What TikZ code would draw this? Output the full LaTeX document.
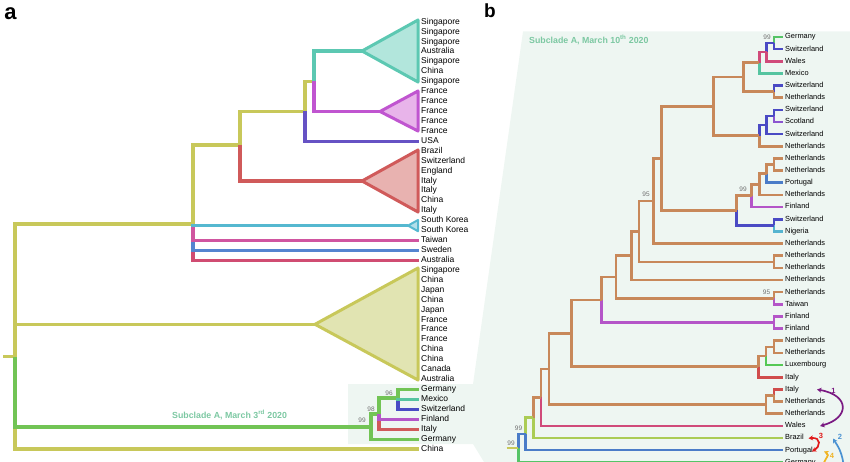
\documentclass[tikz,border=0pt]{standalone}
\usepackage{fontspec}
\setmainfont{Liberation Sans}
\usetikzlibrary{arrows.meta}

\definecolor{oli}{HTML}{C8C85A}
\definecolor{oliF}{HTML}{E1E4B2}
\definecolor{tq}{HTML}{5CC8B2}
\definecolor{tqF}{HTML}{B2E6DC}
\definecolor{mg}{HTML}{C055D0}
\definecolor{mgF}{HTML}{E8B4EA}
\definecolor{rd}{HTML}{D05A5A}
\definecolor{rdF}{HTML}{E8B2B0}
\definecolor{ind}{HTML}{6652C4}
\definecolor{cy}{HTML}{55B8D0}
\definecolor{pk}{HTML}{D055A0}
\definecolor{sw}{HTML}{5585D0}
\definecolor{cr}{HTML}{D04C72}
\definecolor{grnA}{HTML}{72C455}
\definecolor{brn}{HTML}{C8885A}
\definecolor{wal}{HTML}{D04A7A}
\definecolor{mex}{HTML}{55C4A0}
\definecolor{grn}{HTML}{55C466}
\definecolor{blu}{HTML}{4A4AC4}
\definecolor{sco}{HTML}{8C55D0}
\definecolor{por}{HTML}{4A7CC8}
\definecolor{fin}{HTML}{B455C8}
\definecolor{nig}{HTML}{55B4D0}
\definecolor{lux}{HTML}{55C855}
\definecolor{ita}{HTML}{D04C4C}
\definecolor{bra}{HTML}{ABCC55}
\definecolor{panel}{HTML}{EEF6F2}
\definecolor{subtx}{HTML}{7CC8A2}
\definecolor{bootgray}{HTML}{707070}
\definecolor{arP}{HTML}{7A1A82}
\definecolor{arR}{HTML}{E01A1A}
\definecolor{arB}{HTML}{4A92D2}
\definecolor{arO}{HTML}{F0B424}

\tikzset{
  leaf/.style={anchor=west, inner xsep=2pt, inner ysep=0pt, text height=6pt,
    text depth=1.7pt, font=\fontsize{8.5}{9}\selectfont},
  leafb/.style={leaf, font=\fontsize{7.4}{8}\selectfont, text height=5.3pt,
    text depth=1.5pt},
  br/.style={line width=3.1pt, draw=#1},
  bb/.style={line width=2.6pt, draw=#1},
  clade/.style={line width=3pt, draw=#1, line join=round},
  boot/.style={font=\fontsize{6.5}{7}\selectfont, text=bootgray, inner sep=0pt},
  sub/.style={anchor=west, inner sep=0pt, text=subtx,
    font=\bfseries\fontsize{8.8}{9}\selectfont},
  panlab/.style={inner sep=0pt, font=\bfseries\fontsize{19}{19}\selectfont},
  mig/.style={line width=1.7pt, draw=#1, {Stealth[length=4.5pt,width=5pt]}-{Stealth[length=4.5pt,width=5pt]}},
  miglab/.style={inner sep=0pt, text=#1, font=\bfseries\fontsize{7.5}{8}\selectfont},
}

\begin{document}
\begin{tikzpicture}[x=1pt,y=-1pt]
\useasboundingbox (0,0) rectangle (850,462);
\clip (0,0) rectangle (850,462);

% shaded zoom region
\fill[panel] (348,384) -- (473,384) -- (523,31.5) -- (850,31.5) -- (850,462)
  -- (484,462) -- (473,444) -- (348,444) -- cycle;

\node[panlab, font=\bfseries\fontsize{22}{22}\selectfont] (pa) at (10.5,13.5) {a};
\node[panlab] (pb) at (490,11) {b};

% ---------------- panel a ----------------
\foreach \nm [count=\i from 0] in {Singapore,Singapore,Singapore,Australia,Singapore,
  China,Singapore,France,France,France,France,France,USA,Brazil,Switzerland,England,
  Italy,Italy,China,Italy,South Korea,South Korea,Taiwan,Sweden,Australia,Singapore,
  China,Japan,China,Japan,France,France,France,China,China,Canada,Australia,Germany,
  Mexico,Switzerland,Finland,Italy,Germany,China}
  \node[leaf] (a\i) at (419,22+9.93*\i) {\nm};

\coordinate (root) at (15,356.7);
\coordinate (n193) at (193,224);
\coordinate (n240) at (240,145);
\coordinate (n305) at (305,111.5);
\coordinate (n314) at (314,81.5);
\coordinate (tqT) at (362,51);
\coordinate (mgT) at (380,111.5);
\coordinate (rdT) at (362,181);
\coordinate (skT) at (408,225.6);
\coordinate (olT) at (315,324.3);
\coordinate (sA1) at (371,427);
\coordinate (sA2) at (379,414);
\coordinate (sA3) at (398,398);

\draw[br=oli] (3,356.7) -- (root);
\draw[br=oli] (root) |- (a43.west);
\draw[br=grnA] (root) |- (sA1);
\draw[br=oli] (root) |- (n193);
\draw[br=oli] (15,324.3) -- (olT);

\draw[br=cr] (n193) |- (a24.west);
\draw[br=sw] (n193) |- (a23.west);
\draw[br=pk] (n193) |- (a22.west);
\draw[br=cy] (n193) |- (skT);
\draw[br=oli] (n193) |- (n240);

\draw[br=oli] (n240) |- (n305);
\draw[br=rd] (n240) |- (rdT);
\draw[br=oli] (n305) |- (n314);
\draw[br=ind] (n305) |- (a12.west);
\draw[br=tq] (n314) |- (tqT);
\draw[br=mg] (n314) |- (mgT);

\filldraw[clade=tq, fill=tqF] (tqT) -- (418,20) -- (418,82) -- cycle;
\filldraw[clade=mg, fill=mgF] (mgT) -- (418,91) -- (418,131) -- cycle;
\filldraw[clade=rd, fill=rdF] (rdT) -- (418,150) -- (418,212) -- cycle;
\filldraw[clade=cy, fill=cy!45, line width=2pt] (skT) -- (418,220) -- (418,231.2) -- cycle;
\filldraw[clade=oli, fill=oliF] (olT) -- (418,268) -- (418,380) -- cycle;

% subclade A
\draw[br=grnA] (sA1) |- (a42.west);
\draw[br=grnA] (sA1) |- (sA2);
\draw[br=rd] (sA2) |- (a41.west);
\draw[br=fin] (sA2) |- (a40.west);
\draw[br=grnA] (sA2) |- (sA3);
\draw[br=blu] (sA3) |- (a39.west);
\draw[br=grnA] (sA3) |- (a37.west);
\draw[br=mex] (sA3) |- (a38.west);

\node[boot] (bs96) at (389,393) {96};
\node[boot] (bs98) at (371,409) {98};
\node[boot] (bs99a) at (362,420) {99};
\node[sub] (subA) at (172,415) {Subclade A, March 3\textsuperscript{rd} 2020};

% ---------------- panel b ----------------
\node[sub] (subB) at (529,40) {Subclade A, March 10\textsuperscript{th} 2020};

\foreach \nm [count=\j from 0] in {Germany,Switzerland,Wales,Mexico,Switzerland,
  Netherlands,Switzerland,Scotland,Switzerland,Netherlands,Netherlands,Netherlands,
  Portugal,Netherlands,Finland,Switzerland,Nigeria,Netherlands,Netherlands,
  Netherlands,Netherlands,Netherlands,Taiwan,Finland,Finland,Netherlands,Netherlands,
  Luxembourg,Italy,Italy,Netherlands,Netherlands,Wales,Brazil,Portugal,Germany}
  \node[leafb] (b\j) at (783,37+12.15*\j) {\nm};

\coordinate (A1) at (774,43.1);
\coordinate (A2) at (766.7,52.2);
\coordinate (A3) at (759.3,62.8);
\coordinate (A4) at (774,91.7);
\coordinate (A5) at (743.3,77.2);
\coordinate (A6) at (774,116);
\coordinate (A7) at (766.7,125.1);
\coordinate (A8) at (759.3,135.7);
\coordinate (A9) at (713.3,106.5);
\coordinate (B1) at (774,164.6);
\coordinate (B2) at (766.7,173.7);
\coordinate (B3) at (759.3,184.3);
\coordinate (B4) at (751.7,195.7);
\coordinate (B5) at (774,225.3);
\coordinate (B6) at (736.7,210.5);
\coordinate (B7) at (661.7,158.5);
\coordinate (B8) at (653.3,201);
\coordinate (B9) at (774,261.8);
\coordinate (B10) at (639,231.4);
\coordinate (B11) at (631.7,255.7);
\coordinate (B12) at (774,298.2);
\coordinate (B13) at (616,277);
\coordinate (B14) at (774,322.5);
\coordinate (B15) at (601.7,299.8);
\coordinate (C1) at (774,346.8);
\coordinate (C2) at (766,355.9);
\coordinate (C3) at (758.3,366.6);
\coordinate (C4) at (571.7,333.2);
\coordinate (D1) at (774,395.4);
\coordinate (D2) at (766,404.5);
\coordinate (D3) at (549,368.9);
\coordinate (E1) at (541,397.3);
\coordinate (E2) at (533.3,417.6);
\coordinate (E3) at (525.7,433.9);
\coordinate (E4) at (518.3,448);

\draw[bb=grn] (A1) |- (b0.west);
\draw[bb=blu] (A1) |- (b1.west);
\draw[bb=blu] (A2) |- (A1);
\draw[bb=wal] (A2) |- (b2.west);
\draw[bb=wal] (A3) |- (A2);
\draw[bb=mex] (A3) |- (b3.west);
\draw[bb=blu] (A4) |- (b4.west);
\draw[bb=brn] (A4) |- (b5.west);
\draw[bb=brn] (A5) |- (A3);
\draw[bb=brn] (A5) |- (A4);
\draw[bb=blu] (A6) |- (b6.west);
\draw[bb=sco] (A6) |- (b7.west);
\draw[bb=blu] (A7) |- (A6);
\draw[bb=blu] (A7) |- (b8.west);
\draw[bb=blu] (A8) |- (A7);
\draw[bb=brn] (A8) |- (b9.west);
\draw[bb=brn] (A9) |- (A5);
\draw[bb=brn] (A9) |- (A8);

\draw[bb=brn] (B1) |- (b10.west);
\draw[bb=brn] (B1) |- (b11.west);
\draw[bb=brn] (B2) |- (B1);
\draw[bb=por] (B2) |- (b12.west);
\draw[bb=brn] (B3) |- (B2);
\draw[bb=brn] (B3) |- (b13.west);
\draw[bb=brn] (B4) |- (B3);
\draw[bb=fin] (B4) |- (b14.west);
\draw[bb=blu] (B5) |- (b15.west);
\draw[bb=nig] (B5) |- (b16.west);
\draw[bb=brn] (B6) |- (B4);
\draw[bb=blu] (B6) |- (B5);
\draw[bb=brn] (B7) |- (A9);
\draw[bb=brn] (B7) |- (B6);
\draw[bb=brn] (B8) |- (B7);
\draw[bb=brn] (B8) |- (b17.west);
\draw[bb=brn] (B9) |- (b18.west);
\draw[bb=brn] (B9) |- (b19.west);
\draw[bb=brn] (B10) |- (B8);
\draw[bb=brn] (B10) |- (B9);
\draw[bb=brn] (B11) |- (B10);
\draw[bb=brn] (B11) |- (b20.west);
\draw[bb=brn] (B12) |- (b21.west);
\draw[bb=fin] (B12) |- (b22.west);
\draw[bb=brn] (B13) |- (B11);
\draw[bb=brn] (B13) |- (B12);
\draw[bb=fin] (B14) |- (b23.west);
\draw[bb=fin] (B14) |- (b24.west);
\draw[bb=brn] (B15) |- (B13);
\draw[bb=fin] (B15) |- (B14);

\draw[bb=brn] (C1) |- (b25.west);
\draw[bb=brn] (C1) |- (b26.west);
\draw[bb=brn] (C2) |- (C1);
\draw[bb=lux] (C2) |- (b27.west);
\draw[bb=brn] (C3) |- (C2);
\draw[bb=ita] (C3) |- (b28.west);
\draw[bb=brn] (C4) |- (B15);
\draw[bb=brn] (C4) |- (C3);
\draw[bb=ita] (D1) |- (b29.west);
\draw[bb=brn] (D1) |- (b30.west);
\draw[bb=brn] (D2) |- (D1);
\draw[bb=brn] (D2) |- (b31.west);
\draw[bb=brn] (D3) |- (C4);
\draw[bb=brn] (D3) |- (D2);
\draw[bb=brn] (E1) |- (D3);
\draw[bb=wal] (E1) |- (b32.west);
\draw[bb=brn] (E2) |- (E1);
\draw[bb=bra] (E2) |- (b33.west);
\draw[bb=bra] (E3) |- (E2);
\draw[bb=por] (E3) |- (b34.west);
\draw[bb=por] (E4) |- (E3);
\draw[bb=grn] (E4) |- (b35.west);
\draw[bb=oli] (506.7,448) -- (E4);

\node[boot] (bsG) at (767,37) {99};
\node[boot] (bsF) at (743,189.5) {99};
\node[boot] (bsN) at (766.5,292.5) {95};
\node[boot] (bsM) at (646,194) {95};
\node[boot] (bsE3) at (518.5,428) {99};
\node[boot] (bsE4) at (511,443) {99};

% migration arrows
\draw[mig=arP] (817,389.5) .. controls (850,395) and (850,418) .. (820,426);
\node[miglab=arP] (m1) at (833.5,391) {1};
\draw[mig=arR] (808.5,438.3) .. controls (822,437) and (820,447) .. (812,451.5);
\node[miglab=arR] (m3) at (821,435.5) {3};
\draw[line width=1.7pt, draw=arB, -{Stealth[length=4.5pt,width=5pt]}]
  (844,470) .. controls (843,452) and (837,445) .. (833,438.5);
\node[miglab=arB] (m2) at (840,436.5) {2};
\draw[mig=arO] (824,451.5) .. controls (832,455) and (820,462) .. (826,470);
\node[miglab=arO] (m4) at (832,456) {4};
\end{tikzpicture}
\end{document}
